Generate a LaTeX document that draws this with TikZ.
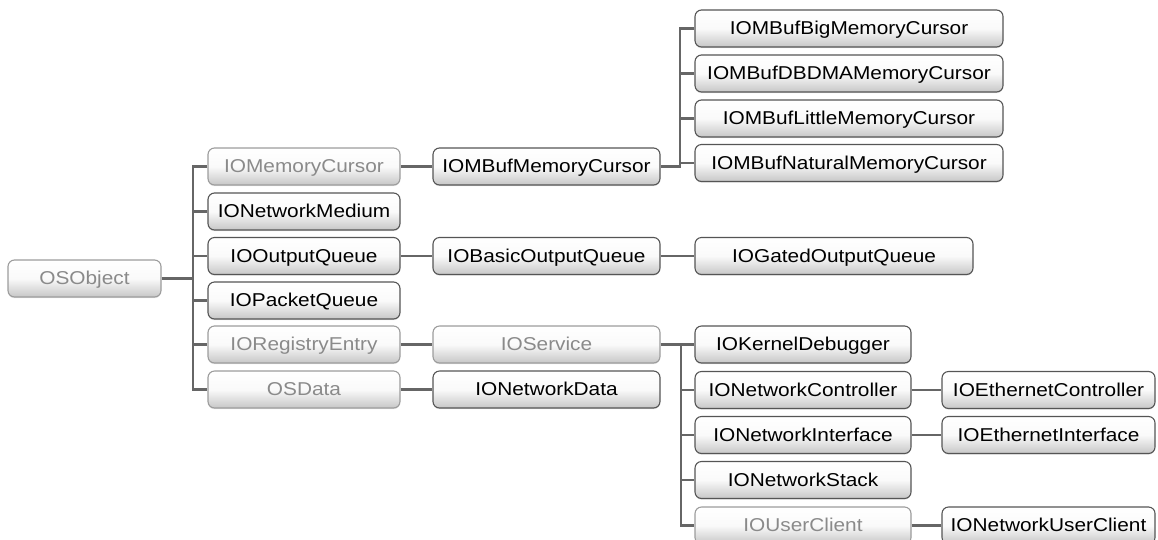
\documentclass[tikz,border=0pt]{standalone}
\usepackage{fontspec}
\setmainfont[FakeStretch=1.12]{Liberation Sans}
\usetikzlibrary{shadows}
\definecolor{lin}{HTML}{666666}
\definecolor{gtext}{HTML}{8A8A8A}
\definecolor{gborder}{HTML}{9C9C9C}
\definecolor{bborder}{HTML}{555555}
\begin{document}
\begin{tikzpicture}[x=1pt,y=-1pt,
  cls/.style={draw=bborder, line width=1.1pt, rounded corners=6.5pt,
    top color=white, bottom color=black!22, middle color=black!2,
    inner sep=0pt, minimum height=37pt, text=black,
    text height=12.5pt, text depth=0.5pt,
    font=\fontsize{18.6}{20}\selectfont,
    drop shadow={shadow xshift=0pt, shadow yshift=-1.2pt, opacity=0.2}},
  gcls/.style={cls, draw=gborder, text=gtext},
  link/.style={draw=lin, line width=2.2pt}]
\useasboundingbox (0,0) rectangle (1158,539);

% root
\node[gcls, minimum width=153pt] (os) at (84.5,278.5) {OSObject};
% column 1
\node[gcls, minimum width=192pt] (mc) at (304,166.5) {IOMemoryCursor};
\node[cls,  minimum width=192pt] (nm) at (304,211.5) {IONetworkMedium};
\node[cls,  minimum width=192pt] (oq) at (304,256) {IOOutputQueue};
\node[cls,  minimum width=192pt] (pq) at (304,300.5) {IOPacketQueue};
\node[gcls, minimum width=192pt] (re) at (304,344.5) {IORegistryEntry};
\node[gcls, minimum width=192pt] (od) at (304,389.5) {OSData};
% column 2
\node[cls,  minimum width=227pt] (mbmc) at (546.5,166.5) {IOMBufMemoryCursor};
\node[cls,  minimum width=227pt] (boq) at (546.5,256) {IOBasicOutputQueue};
\node[gcls, minimum width=227pt] (svc) at (546.5,344.5) {IOService};
\node[cls,  minimum width=227pt] (nd) at (546.5,389.5) {IONetworkData};
% column 3 top
\node[cls, minimum width=308pt] (big) at (849,28.5) {IOMBufBigMemoryCursor};
\node[cls, minimum width=308pt] (dbd) at (849,73.5) {IOMBufDBDMAMemoryCursor};
\node[cls, minimum width=308pt] (lit) at (849,118.5) {IOMBufLittleMemoryCursor};
\node[cls, minimum width=308pt] (nat) at (849,163) {IOMBufNaturalMemoryCursor};
\node[cls, minimum width=278pt] (goq) at (834,256) {IOGatedOutputQueue};
% column 3 lower
\node[cls,  minimum width=216pt] (kd) at (803,344.5) {IOKernelDebugger};
\node[cls,  minimum width=216pt] (nc) at (803,390) {IONetworkController};
\node[cls,  minimum width=216pt] (ni) at (803,435) {IONetworkInterface};
\node[cls,  minimum width=216pt] (ns) at (803,480) {IONetworkStack};
\node[gcls, minimum width=216pt] (uc) at (803,525.5) {IOUserClient};
% column 4
\node[cls, minimum width=213pt] (ec) at (1048.5,390) {IOEthernetController};
\node[cls, minimum width=213pt] (ei) at (1048.5,435) {IOEthernetInterface};
\node[cls, minimum width=213pt] (nuc) at (1048.5,525.5) {IONetworkUserClient};

% junctions
\coordinate (j0) at (193,278.5);
\coordinate (j1) at (680,166.5);
\coordinate (j2) at (681,344.5);

% root connectors
\draw[link] (os.east) -- (j0);
\draw[link] (mc.west) -- (j0 |- mc) -- (j0 |- od) -- (od.west);
\draw[link] (j0 |- nm) -- (nm.west);
\draw[link] (j0 |- oq) -- (oq.west);
\draw[link] (j0 |- pq) -- (pq.west);
\draw[link] (j0 |- re) -- (re.west);

% column 1 -> column 2
\draw[link] (mc.east) -- (mbmc.west);
\draw[link] (oq.east) -- (boq.west);
\draw[link] (re.east) -- (svc.west);
\draw[link] (od.east) -- (nd.west);

% IOMBufMemoryCursor subtree
\draw[link] (big.west) -- (j1 |- big) -- (j1) -- (mbmc.east);
\draw[link] (j1 |- dbd) -- (dbd.west);
\draw[link] (j1 |- lit) -- (lit.west);
\draw[link] (j1 |- nat) -- (nat.west);

% output queue
\draw[link] (boq.east) -- (goq.west);

% IOService subtree
\draw[link] (svc.east) -- (kd.west);
\draw[link] (j2) -- (j2 |- uc) -- (uc.west);
\draw[link] (j2 |- nc) -- (nc.west);
\draw[link] (j2 |- ni) -- (ni.west);
\draw[link] (j2 |- ns) -- (ns.west);

% column 3 -> column 4
\draw[link] (nc.east) -- (ec.west);
\draw[link] (ni.east) -- (ei.west);
\draw[link] (uc.east) -- (nuc.west);
\end{tikzpicture}
\end{document}
